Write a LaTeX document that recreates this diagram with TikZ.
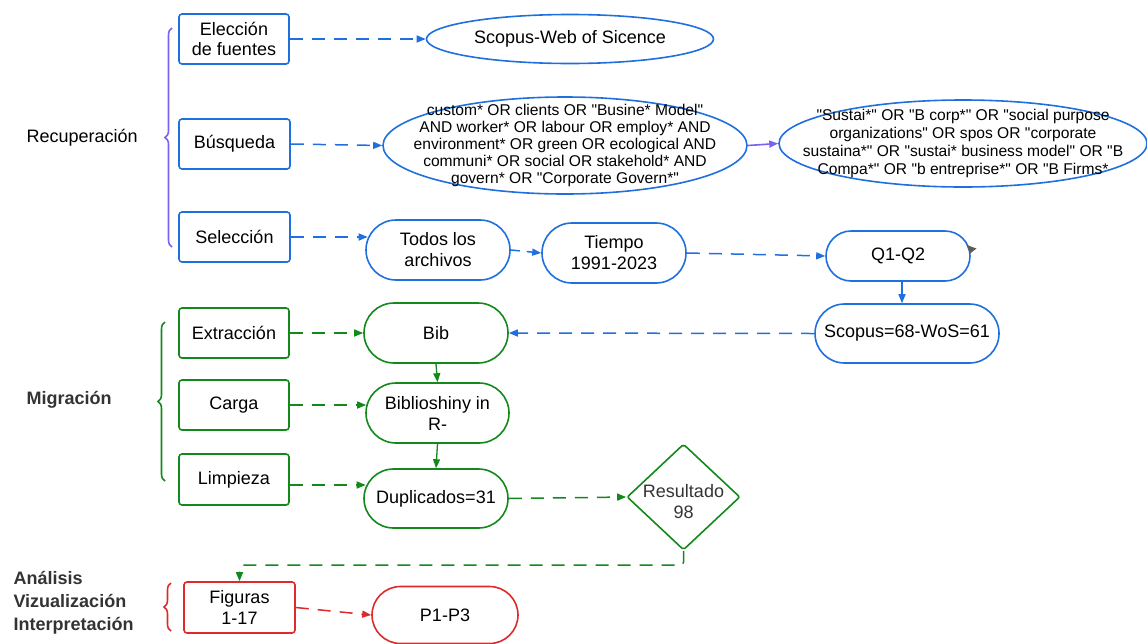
\documentclass[tikz,border=0pt]{standalone}
\usepackage{fontspec}
\setmainfont{Liberation Sans}
\usetikzlibrary{shapes.geometric,shapes.misc,arrows.meta,decorations.pathreplacing,calc}
\definecolor{cblue}{HTML}{1F6FDE}
\definecolor{cgreen}{HTML}{13891B}
\definecolor{cred}{HTML}{DD2A2A}
\definecolor{cpurple}{HTML}{7763EE}
\definecolor{cgray}{HTML}{333333}
\newcommand\qq{\textquotedbl}
\tikzset{
  txt/.style={font=\fontsize{18}{22}\selectfont, align=center, text=black},
  small/.style={font=\fontsize{15.6}{17}\selectfont, align=center, text=black},
  lbl/.style={font=\fontsize{18}{23}\selectfont\bfseries, align=left, text=cgray},
  box/.style={txt, draw, line width=1.6pt, rounded corners=3pt, inner sep=0pt},
  stad/.style={txt, draw, line width=1.6pt, rounded rectangle, inner sep=0pt},
  ell/.style={draw, line width=1.6pt, ellipse, inner sep=0pt},
  dsh/.style={line width=1.5pt, dash pattern=on 13pt off 9pt, -{Triangle[length=9pt,width=7pt]}},
  sld/.style={line width=1.3pt, -{Triangle[length=9pt,width=7pt]}},
  brc/.style={line width=1.6pt, decorate, decoration={brace, amplitude=7pt}},
}
\begin{document}
\begin{tikzpicture}[x=1pt,y=-1pt]
\useasboundingbox (0,0) rectangle (1147,643);

% ---- Recuperacion ----
\node[txt, anchor=west] (lrec) at (23,138) {Recuperación};
\draw[brc, cpurple] (172,247) -- (172,28);

\node[box, draw=cblue, minimum width=110, minimum height=50] (elec) at (234,39) {Elección\\[-2pt]de fuentes};
\node[ell, draw=cblue, minimum width=287, minimum height=49] (sw) at (570,39) {};
\node[txt] (swt) at (sw) {Scopus-Web of Sicence};

\node[box, draw=cblue, minimum width=111, minimum height=50] (busq) at (234.5,144) {Búsqueda};
\node[ell, draw=cblue, minimum width=364, minimum height=97] (qa) at (565,145.5) {};
\node[small] (qat) at (qa) {custom* OR clients OR \qq Busine* Model\qq\\AND worker* OR labour OR employ* AND\\environment* OR green OR ecological AND\\communi* OR social OR stakehold* AND\\govern* OR \qq Corporate Govern*\qq};
\node[ell, draw=cblue, minimum width=368, minimum height=87] (qb) at (963,143.5) {};
\node[small, font=\fontsize{15.6}{18}\selectfont] (qbt) at (qb) {\qq Sustai*\qq\ OR \qq B corp*\qq\ OR \qq social purpose\\organizations\qq\ OR spos OR \qq corporate\\sustaina*\qq\ OR \qq sustai* business model\qq\ OR \qq B\\Compa*\qq\ OR \qq b entreprise*\qq\ OR \qq B Firms*};

\node[box, draw=cblue, minimum width=111, minimum height=50] (selec) at (234.5,237) {Selección};
\node[stad, draw=cblue, minimum width=144, minimum height=60] (todos) at (438,250) {Todos los\\[-1pt]archivos};
\node[stad, draw=cblue, minimum width=144, minimum height=60] (tiempo) at (614,253) {Tiempo\\[-1pt]1991-2023};
\node[stad, draw=cblue, minimum width=144, minimum height=50] (q12) at (898,256) {Q1-Q2};
\node[stad, draw=cblue, minimum width=184, minimum height=59] (scop) at (907,333.5) {Scopus=68-WoS=61};
\fill[cgray!80] (966.5,245) -- (976.5,248.5) -- (970,253.5) -- cycle;

\draw[dsh, cblue] (elec.east) -- (sw.west);
\draw[dsh, cblue] (busq.east) -- (qa.west);
\draw[sld, cpurple, line width=1.6pt] (qa.east) -- (qb.west);
\draw[dsh, cblue] (selec.east) -- ($(selec.east -| todos.west)+(2.5,0)$);
\draw[dsh, cblue, dash pattern=on 9pt off 7pt] (todos.east) -- (tiempo.west);
\draw[dsh, cblue] (tiempo.east) -- (q12.west);
\draw[sld, cblue] ([xshift=4pt]q12.south) -- ([xshift=4pt]q12.south |- scop.north);

% ---- Migracion ----
\node[lbl, anchor=west] (lmig) at (23,400) {Migración};
\draw[brc, cgreen] (165,481) -- (165,322);

\node[box, draw=cgreen, minimum width=110, minimum height=50] (extr) at (234,333) {Extracción};
\node[stad, draw=cgreen, minimum width=144, minimum height=60] (bib) at (436,333) {Bib};
\node[box, draw=cgreen, minimum width=110, minimum height=50] (carga) at (234,405) {Carga};
\node[stad, draw=cgreen, minimum width=143, minimum height=60] (biblio) at (437.5,413) {Biblioshiny in\\[-1pt]R-};
\node[box, draw=cgreen, minimum width=110, minimum height=51] (limp) at (234,479.5) {Limpieza};
\node[stad, draw=cgreen, minimum width=144, minimum height=59] (dup) at (436,498.5) {Duplicados=31};
\node[draw=cgreen, line width=1.6pt, diamond, minimum width=113, minimum height=106, inner sep=0pt, rounded corners=2pt] (res) at (683.5,497) {};
\node[txt, text=cgray] (rest) at (683.5,502) {Resultado\\[-1pt]98};

\draw[dsh, cblue] (scop.west) -- (bib.east);
\draw[dsh, cgreen] (extr.east) -- (bib.west);
\draw[sld, cgreen] (bib.south) -- (biblio.north);
\draw[dsh, cgreen] (carga.east) -- ($(carga.east -| biblio.west)+(1,0)$);
\draw[sld, cgreen] (biblio.south) -- (dup.north);
\draw[dsh, cgreen] ([yshift=-5.5pt]limp.east) -- ($([yshift=-5.5pt]limp.east -| dup.west)+(2.5,0)$);
\draw[dsh, cgreen] (dup.east) -- (res.west);

% ---- Analisis ----
\node[lbl, anchor=west] (lana) at (10,603) {Análisis\\Vizualización\\Interpretación};
\draw[brc, cred] (171,631) -- (171,583);
\node[box, draw=cred, minimum width=111, minimum height=51] (fig) at (239.5,607.5) {Figuras\\[-1pt]1-17};
\node[stad, draw=cred, minimum width=146, minimum height=57] (p13) at (445,615) {P1-P3};
\draw[dsh, cred] (fig.east) -- (p13.west);
\draw[dsh, cgreen, rounded corners=3pt] (res.south) |- ($(fig.north)+(0,-16)$) -- (fig.north);
\end{tikzpicture}
\end{document}
